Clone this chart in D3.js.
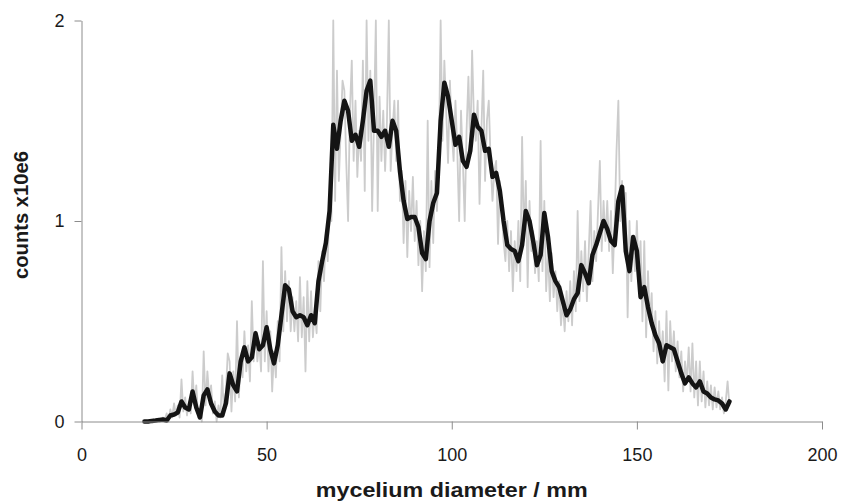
<!DOCTYPE html>
<html>
<head>
<meta charset="utf-8">
<script src="https://cdn.jsdelivr.net/npm/d3@7"></script>
<style>
  html, body { margin: 0; padding: 0; background: #fff; }
  svg { display: block; }
  text { font-family: "Liberation Sans", Arial, Helvetica, sans-serif; }
</style>
</head>
<body>
<svg id="chart" width="857" height="503"></svg>
<script>
// ---------------- data ----------------
const xTicks = [0, 50, 100, 150, 200];
const yTicks = [0, 1, 2];
const xLabel = "mycelium diameter / mm";
const yLabel = "counts x10e6";

// smoothed series (black), one value per mm starting at 17 mm
const smoothStart = 17;
const smoothStep = 1;
const smoothValues = [
  0.0, 0.0, 0.003, 0.005, 0.008, 0.01, 0.005, 0.03, 0.035, 0.045,
  0.1, 0.07, 0.06, 0.15, 0.07, 0.02, 0.13, 0.16, 0.09, 0.05,
  0.03, 0.03, 0.09, 0.24, 0.18, 0.15, 0.3, 0.37, 0.3, 0.32,
  0.44, 0.36, 0.38, 0.47, 0.36, 0.29, 0.38, 0.53, 0.68, 0.66,
  0.55, 0.52, 0.53, 0.52, 0.48, 0.53, 0.49, 0.7, 0.8, 0.89,
  1.05, 1.48, 1.36, 1.5, 1.6, 1.55, 1.4, 1.43, 1.37, 1.5,
  1.65, 1.7, 1.45, 1.45, 1.42, 1.45, 1.37, 1.5, 1.45, 1.25,
  1.1, 1.01, 1.02, 1.02, 0.97, 0.84, 0.81, 1.0, 1.09, 1.14,
  1.5, 1.69, 1.62, 1.5, 1.38, 1.42, 1.3, 1.27, 1.35, 1.53,
  1.47, 1.45, 1.35, 1.36, 1.22, 1.24, 1.15, 1.0, 0.88, 0.86,
  0.85, 0.8, 0.88, 1.05, 1.0, 0.9, 0.78, 0.83, 1.04, 0.92,
  0.75, 0.7, 0.67, 0.6, 0.53, 0.56, 0.61, 0.64, 0.78, 0.74,
  0.69, 0.83, 0.88, 0.94, 1.0, 0.96, 0.9, 0.88, 1.1, 1.17,
  0.85, 0.75, 0.92, 0.85, 0.62, 0.67, 0.57, 0.49, 0.43, 0.39,
  0.3, 0.38, 0.37, 0.36, 0.3, 0.24, 0.19, 0.22, 0.19, 0.17,
  0.2, 0.15, 0.14, 0.12, 0.11, 0.105, 0.09, 0.06, 0.1
];

// raw series (grey), one value per 0.5 mm starting at 17 mm
const rawStart = 17;
const rawStep = 0.5;
const rawValues = [
  0, 0, 0, 0.005, 0, 0.01, 0.005, 0.01, 0.012, 0.005,
  0.02, 0.01, 0.04, 0, 0.06, 0.02, 0.09, 0.03, 0.08, 0.02,
  0.21, 0.05, 0.12, 0.03, 0.1, 0.04, 0.25, 0.08, 0.18, 0.02,
  0.06, 0.0, 0.35, 0.08, 0.25, 0.12, 0.18, 0.04, 0.1, 0.0,
  0.08, 0.02, 0.23, 0.03, 0.15, 0.34, 0.3, 0.05, 0.25, 0.1,
  0.5, 0.12, 0.32, 0.22, 0.45, 0.25, 0.38, 0.2, 0.6, 0.3,
  0.45, 0.3, 0.4, 0.25, 0.8, 0.3, 0.55, 0.25, 0.45, 0.15,
  0.35, 0.22, 0.5, 0.3, 0.87, 0.45, 0.75, 0.5, 0.7, 0.45,
  0.62, 0.45, 0.6, 0.4, 0.72, 0.42, 0.62, 0.25, 0.7, 0.4,
  0.65, 0.42, 0.55, 0.44, 0.8, 0.55, 0.85, 0.7, 0.95, 0.8,
  1.1, 1.0, 2.0, 1.1, 1.75, 1.2, 1.45, 1.7, 1.65, 1.3,
  1.0, 1.55, 1.8, 1.3, 1.6, 1.22, 1.45, 1.3, 1.8, 1.15,
  2.0, 1.4, 1.75, 1.05, 1.5, 2.0, 1.05, 1.62, 1.3, 1.55,
  1.25, 1.5, 2.0, 1.25, 1.45, 1.6, 1.3, 1.6, 1.1, 1.25,
  0.89, 1.2, 0.82, 1.15, 0.95, 1.22, 0.9, 1.1, 0.78, 1.0,
  0.65, 0.95, 0.75, 1.5, 0.77, 1.2, 0.89, 1.25, 1.05, 1.3,
  2.0, 1.4, 1.8, 1.55, 1.29, 1.7, 1.45, 1.3, 1.6, 1.35,
  1.0, 1.55, 1.3, 1.0, 1.45, 1.72, 1.35, 1.85, 1.5, 1.4,
  1.6, 1.085, 1.45, 1.75, 1.2, 1.5, 1.6, 1.3, 1.1, 1.25,
  1.3, 0.886, 1.2, 1.05, 0.9, 0.8, 1.0, 0.75, 0.95, 0.65,
  0.9, 0.75, 1.0, 0.7, 1.42, 0.9, 1.2, 0.67, 1.1, 0.85,
  0.95, 0.74, 0.9, 0.7, 1.4, 0.75, 1.1, 0.65, 0.85, 0.6,
  0.84, 0.62, 0.75, 0.55, 0.7, 0.48, 0.6, 0.45, 0.65, 0.5,
  0.7, 0.48, 0.75, 0.55, 1.05, 0.6, 0.85, 0.65, 0.9, 0.6,
  0.85, 1.1, 0.7, 0.95, 0.8, 1.05, 1.3, 0.85, 1.1, 0.9,
  1.1, 0.85, 1.05, 0.74, 1.0, 1.35, 1.6, 1.0, 1.2, 0.9,
  1.14, 0.52, 1.0, 0.7, 0.9, 0.75, 1.0, 0.7, 0.9, 0.5,
  0.9, 0.42, 0.75, 0.5, 0.64, 0.35, 0.55, 0.29, 0.5, 0.3,
  0.45, 0.2, 0.55, 0.155, 0.5, 0.3, 0.45, 0.25, 0.4, 0.22,
  0.35, 0.15, 0.3, 0.2, 0.37, 0.15, 0.39, 0.12, 0.3, 0.08,
  0.3, 0.1, 0.25, 0.07, 0.2, 0.08, 0.18, 0.06, 0.17, 0.07,
  0.15, 0.06, 0.12, 0.04, 0.1, 0.2, 0.08
];

// ---------------- drawing ----------------
const svg = d3.select("#chart");
const plotLeft = 81.5, plotRight = 822, plotTop = 20.5, plotBottom = 421.5;

const x = d3.scaleLinear().domain([0, 200]).range([plotLeft, plotRight]);
const y = d3.scaleLinear().domain([0, 2]).range([plotBottom, plotTop]);

const rawData = rawValues.map((v, i) => [rawStart + i * rawStep, v]);
const smoothData = smoothValues.map((v, i) => [smoothStart + i * smoothStep, v]);

const line = d3.line().x(d => x(d[0])).y(d => y(d[1]));

svg.append("path")
  .datum(rawData)
  .attr("d", line)
  .attr("fill", "none")
  .attr("stroke", "#cccccc")
  .attr("stroke-width", 1.8)
  .attr("stroke-linejoin", "round");

svg.append("path")
  .datum(smoothData)
  .attr("d", line)
  .attr("fill", "none")
  .attr("stroke", "#141414")
  .attr("stroke-width", 4.5)
  .attr("stroke-linejoin", "round")
  .attr("stroke-linecap", "round");

const axisColor = "#8c8c8c";

const gx = svg.append("g")
  .attr("transform", `translate(0,${plotBottom})`)
  .call(d3.axisBottom(x).tickValues(xTicks).tickFormat(d3.format("d"))
    .tickSize(8).tickSizeOuter(0).tickPadding(19));
const gy = svg.append("g")
  .attr("transform", `translate(${plotLeft},0)`)
  .call(d3.axisLeft(y).tickValues(yTicks).tickFormat(d3.format("d"))
    .tickSize(7).tickSizeOuter(0).tickPadding(10));

[gx, gy].forEach(g => {
  g.select(".domain").attr("stroke", axisColor).attr("stroke-width", 1);
  g.selectAll(".tick line").attr("stroke", axisColor).attr("stroke-width", 1);
  g.selectAll(".tick text")
    .attr("fill", "#1a1a1a")
    .style("font-family", "'Liberation Sans', Arial, Helvetica, sans-serif")
    .style("font-size", "18px");
});

svg.append("text")
  .attr("x", (plotLeft + plotRight) / 2)
  .attr("y", 497)
  .attr("text-anchor", "middle")
  .attr("fill", "#1a1a1a")
  .attr("textLength", 272)
  .attr("lengthAdjust", "spacingAndGlyphs")
  .style("font-size", "20px")
  .style("font-weight", "bold")
  .text(xLabel);

svg.append("text")
  .attr("transform", "translate(28,215) rotate(-90)")
  .attr("text-anchor", "middle")
  .attr("fill", "#1a1a1a")
  .attr("textLength", 128)
  .attr("lengthAdjust", "spacingAndGlyphs")
  .style("font-size", "20px")
  .style("font-weight", "bold")
  .text(yLabel);
</script>
</body>
</html>
